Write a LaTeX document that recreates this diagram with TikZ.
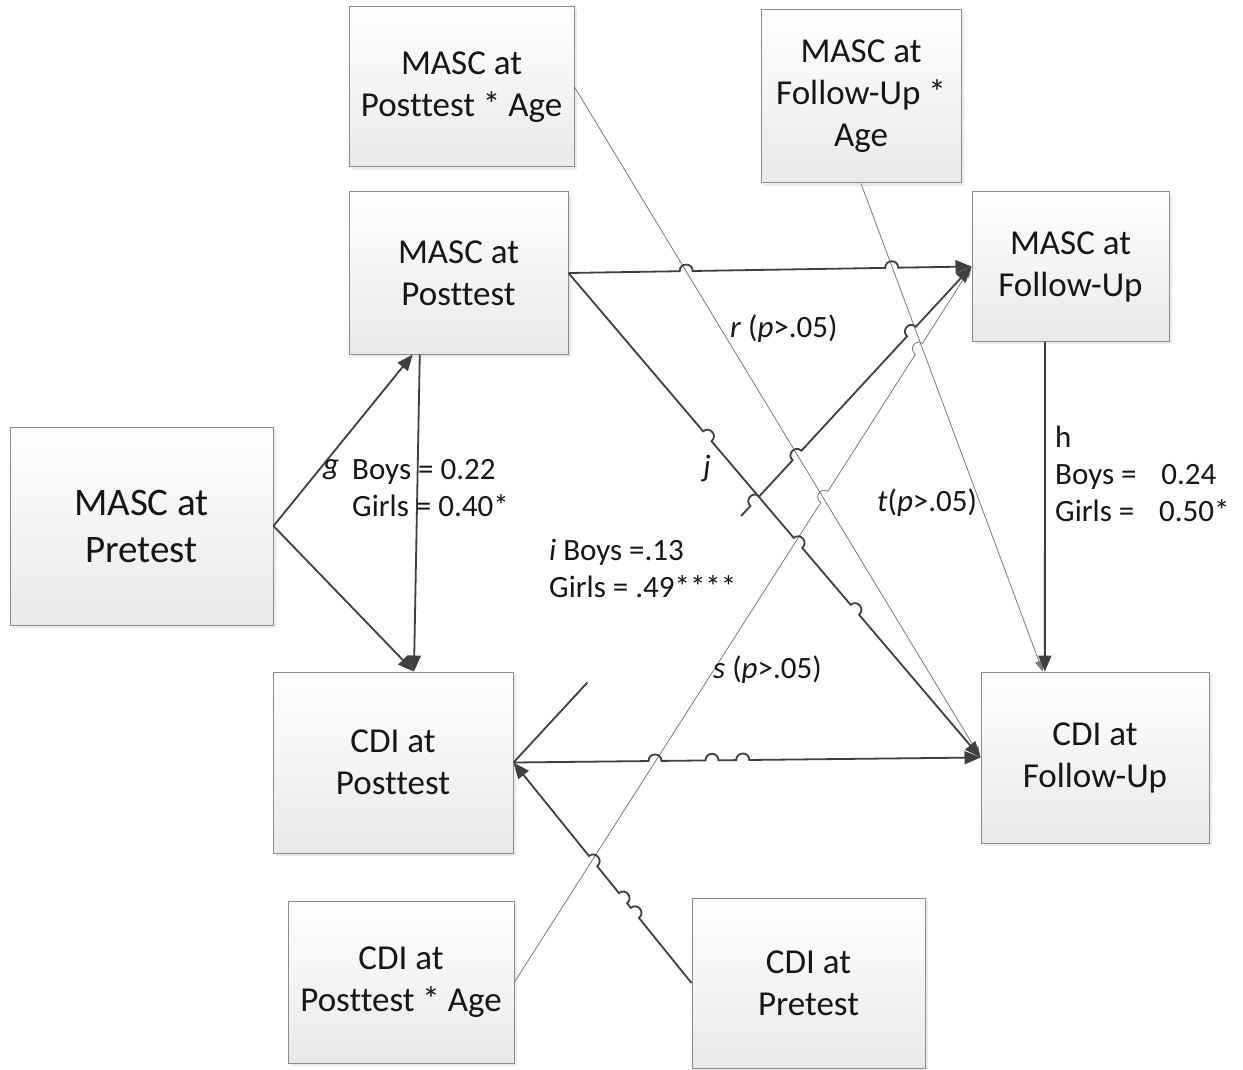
\documentclass[tikz,border=0pt]{standalone}
\usepackage{fontspec}
\setmainfont{Carlito}[Ligatures=CommonOff]
\usetikzlibrary{calc,arrows.meta,shadows}

\definecolor{linedark}{HTML}{3F3F3F}
\definecolor{linelight}{HTML}{7A7A7A}
\definecolor{boxedge}{HTML}{8C8C8C}
\definecolor{boxshade}{HTML}{E9E9E9}
\definecolor{inktext}{HTML}{161616}

\newcommand\boxfont{\fontsize{35}{42}\selectfont}
\newcommand\bigboxfont{\fontsize{39}{47}\selectfont}
\newcommand\labfont{\fontsize{31}{37}\selectfont}

% a small semicircular bump where a connector hops over another line;
% #1,#2 = ends of the straight connector, #3 = position along it,
% #4,#5 = turn angles that choose the side of the bump
\newcommand\hopcurve[5]{%
  -- ($(#1)!#3!(#2)!6.5pt!(#1)$)
  .. controls ($(#1)!#3!(#2)!6.5pt!(#1)!8.7pt!#4:(#1)$)
  and ($(#1)!#3!(#2)!6.5pt!(#2)!8.7pt!#5:(#2)$)
  .. ($(#1)!#3!(#2)!6.5pt!(#2)$)}
\newcommand\hopL[3]{\hopcurve{#1}{#2}{#3}{-90}{90}}
\newcommand\hopR[3]{\hopcurve{#1}{#2}{#3}{90}{-90}}

\begin{document}
\begin{tikzpicture}[x=1pt,y=1pt,
  box/.style={draw=boxedge, line width=1pt, top color=white, bottom color=boxshade,
    inner sep=0pt, align=center, text=inktext, font=\boxfont,
    drop shadow={shadow xshift=3pt, shadow yshift=-3pt, fill=black!8, opacity=1}},
  heavy/.style={draw=linedark, line width=1.8pt},
  light/.style={draw=linelight, line width=0.8pt},
  bigtip/.style={-{Triangle[length=16pt,width=13pt]}},
  smalltip/.style={-{Triangle[length=11pt,width=8pt]}},
  lab/.style={inner sep=0pt, text=inktext, font=\labfont, align=left}]

\useasboundingbox (0,0) rectangle (1243,-1070);
\fill[white] (0,0) rectangle (1243,-1070);

% variables
\node[box, minimum width=225pt, minimum height=160pt] (mpa)   at (461.5,-87)  {MASC at\\Posttest * Age};
\node[box, minimum width=200pt, minimum height=173pt] (mfa)   at (861,-96.5)  {MASC at\\Follow-Up *\\Age};
\node[box, minimum width=219pt, minimum height=162pt] (mpost) at (458.5,-273) {MASC at\\Posttest};
\node[box, minimum width=197pt, minimum height=149pt] (mfu)   at (1070.5,-266.5) {MASC at\\Follow-Up};
\node[box, minimum width=263pt, minimum height=198pt, font=\bigboxfont] (mpre) at (141.5,-526) {MASC at\\Pretest};
\node[box, minimum width=240pt, minimum height=181pt] (cpost) at (393,-762.5) {CDI at\\Posttest};
\node[box, minimum width=228pt, minimum height=171pt] (cfu)   at (1095,-757.5) {CDI at\\Follow-Up};
\node[box, minimum width=226pt, minimum height=162pt] (cpa)   at (401,-982)   {CDI at\\Posttest * Age};
\node[box, minimum width=233pt, minimum height=170pt] (cpre)  at (808.5,-983) {CDI at\\Pretest};

% attachment points on box edges
\coordinate (gUp)   at ($(mpost.south west)!0.292!(mpost.south east)$);
\coordinate (gDown) at ($(mpost.south west)!0.324!(mpost.south east)$);
\coordinate (cpTop) at ($(cpost.north west)!0.587!(cpost.north east)$);
\coordinate (hOut)  at ($(mfu.south west)!0.371!(mfu.south east)$);
\coordinate (hIn)   at ($(cfu.north west)!0.281!(cfu.north east)$);
\coordinate (tIn)   at ($(cfu.north west)!0.272!(cfu.north east)$);

% age interaction paths (thin)
\draw[light, smalltip] (mpa.east) -- (cfu.west);
\draw[light, smalltip] (mfa.south) -- (tIn);
\draw[light, smalltip] (cpa.east) \hopL{cpa.east}{mfu.west}{0.678} \hopL{cpa.east}{mfu.west}{0.885} -- (mfu.west);

% main paths
\draw[heavy, bigtip] (mpre.east) -- (gUp);
\draw[heavy, bigtip] (mpre.east) -- (cpTop);
\draw[heavy, bigtip] (gDown) -- (cpTop);
\draw[heavy, bigtip] (mpost.east) \hopL{mpost.east}{mfu.west}{0.292} \hopL{mpost.east}{mfu.west}{0.802} -- (mfu.west);
\draw[heavy, bigtip] (mpost.east) \hopL{mpost.east}{cfu.west}{0.337} \hopL{mpost.east}{cfu.west}{0.557} \hopL{mpost.east}{cfu.west}{0.695} -- (cfu.west);
\draw[heavy] (cpost.east) -- ($(cpost.east)!0.161!(mfu.west)$);
\draw[heavy, bigtip] ($(cpost.east)!0.497!(mfu.west)$) \hopL{cpost.east}{mfu.west}{0.527} \hopL{cpost.east}{mfu.west}{0.619} \hopL{cpost.east}{mfu.west}{0.869} -- (mfu.west);
\draw[heavy, bigtip] (hOut) -- (hIn);
\draw[heavy, bigtip] (cpost.east) \hopL{cpost.east}{cfu.west}{0.303} \hopL{cpost.east}{cfu.west}{0.425} \hopL{cpost.east}{cfu.west}{0.491} -- (cfu.west);
\draw[heavy, bigtip] (cpre.west) \hopR{cpre.west}{cpost.east}{0.318} \hopR{cpre.west}{cpost.east}{0.385} \hopR{cpre.west}{cpost.east}{0.553} -- (cpost.east);

% path labels
\node[lab, anchor=west] (lg) at (323,-470) {\textit{g}};
\node[lab, anchor=west] (lgv) at (352,-488) {Boys = 0.22\\Girls = 0.40*};
\node[lab] (lj) at (707,-468) {\textit{j}};
\node[lab, anchor=west] (li) at (549,-568) {\textit{i} Boys =.13\\Girls = .49****};
\node[lab, anchor=west] (lr) at (730,-329) {\textit{r} (\textit{p}>.05)};
\node[lab, anchor=west] (lt) at (877,-503) {\textit{t}(\textit{p}>.05)};
\node[lab, anchor=west] (ls) at (713,-670) {\textit{s} (\textit{p}>.05)};
\node[lab, anchor=west] (lh) at (1055,-474) {h\\Boys =\hspace{0.8em}0.24\\Girls =\hspace{0.8em}0.50*};
\end{tikzpicture}
\end{document}
